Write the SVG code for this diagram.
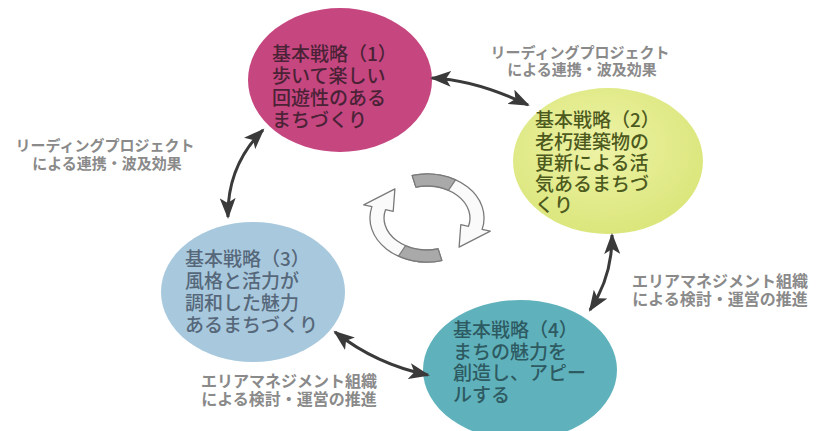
<svg xmlns="http://www.w3.org/2000/svg" width="824" height="431" viewBox="0 0 824 431">
<defs>
<style>
.nt{font-family:"Noto Sans CJK JP","Noto Sans",sans-serif;font-size:19px;font-weight:500}
.lb{font-family:"Noto Sans CJK JP","Noto Sans",sans-serif;font-weight:700;fill:#8a8a8a;text-anchor:middle}
.con{fill:none;stroke:#3a3a3a;stroke-width:3;marker-start:url(#ah);marker-end:url(#ah)}
.rib{fill:#fafafa;stroke:#7a7a7a;stroke-width:1.3;stroke-linejoin:round}
.shade{fill:#a9a9a9;stroke:#7a7a7a;stroke-width:1.2}
</style>
<marker id="ah" markerUnits="userSpaceOnUse" markerWidth="22" markerHeight="16" viewBox="0 0 22 16" refX="19" refY="8" orient="auto-start-reverse">
<path d="M0,0 L21,8 L0,16 L5,8 z" fill="#3a3a3a"/>
</marker>
<radialGradient id="g2" cx="0.45" cy="0.4" r="0.6">
<stop offset="0" stop-color="#eef3a6"/>
<stop offset="1" stop-color="#dbe67c"/>
</radialGradient>
</defs>
<rect width="824" height="431" fill="#ffffff"/>

<g id="node1">
<ellipse cx="340" cy="80" rx="92" ry="72" fill="#c64680"/>
<text class="nt" fill="#4a2236"><tspan x="272" y="61">基本戦略（1）</tspan><tspan x="272" y="83">歩いて楽しい</tspan><tspan x="272" y="105">回遊性のある</tspan><tspan x="272" y="127">まちづくり</tspan></text>
</g>

<g id="node2">
<ellipse cx="608" cy="161" rx="95" ry="73" fill="url(#g2)"/>
<text class="nt" fill="#4d5a1e"><tspan x="535" y="127">基本戦略（2）</tspan><tspan x="535" y="149">老朽建築物の</tspan><tspan x="535" y="170">更新による活</tspan><tspan x="535" y="191">気あるまちづ</tspan><tspan x="535" y="212">くり</tspan></text>
</g>

<g id="node3">
<ellipse cx="253" cy="292" rx="92" ry="70" fill="#a8c9dd"/>
<text class="nt" fill="#56677a"><tspan x="185" y="266">基本戦略（3）</tspan><tspan x="185" y="288">風格と活力が</tspan><tspan x="185" y="310">調和した魅力</tspan><tspan x="185" y="332">あるまちづくり</tspan></text>
</g>

<g id="node4">
<ellipse cx="520" cy="370" rx="97" ry="70" fill="#5fb2bc"/>
<text class="nt" fill="#2e5a62"><tspan x="453" y="337">基本戦略（4）</tspan><tspan x="453" y="359">まちの魅力を</tspan><tspan x="453" y="380">創造し、アピー</tspan><tspan x="453" y="402">ルする</tspan></text>
</g>

<g id="connectors">
<path class="con" d="M432,78 Q476,80 528,105"/>
<path class="con" d="M263,130 Q227,166 228,217"/>
<path class="con" d="M612,235 Q612.5,276 590,310"/>
<path class="con" d="M335,332 Q376.5,364.5 428,375"/>
</g>

<g id="labels">
<text class="lb" font-size="15"><tspan x="580" y="58">リーディングプロジェクト</tspan><tspan x="582" y="75">による連携・波及効果</tspan></text>
<text class="lb" font-size="15"><tspan x="105" y="151">リーディングプロジェクト</tspan><tspan x="107" y="169">による連携・波及効果</tspan></text>
<text class="lb" font-size="16"><tspan x="720" y="287">エリアマネジメント組織</tspan><tspan x="720" y="305">による検討・運営の推進</tspan></text>
<text class="lb" font-size="16"><tspan x="289" y="387">エリアマネジメント組織</tspan><tspan x="289" y="405">による検討・運営の推進</tspan></text>
</g>

<g id="cycle">
<path class="rib" d="M412.2,175.5 A57,44 0 0 1 482.1,229.4 L490.3,231.1 L459.1,247.1 L460.8,224.7 L468.5,226.3 A43,32 0 0 0 415.9,187.1 Z"/>
<path class="shade" d="M412.2,175.5 A57,44 0 0 1 455.5,179.9 L448.5,190.3 A43,32 0 0 0 415.9,187.1 Z"/>
<path class="rib" d="M441.8,260.5 A57,44 0 0 1 371.9,206.6 L363.7,204.9 L394.9,188.9 L393.2,211.3 L385.5,209.7 A43,32 0 0 0 438.1,248.9 Z"/>
<path class="shade" d="M441.8,260.5 A57,44 0 0 1 398.5,256.1 L405.5,245.7 A43,32 0 0 0 438.1,248.9 Z"/>
</g>
</svg>
